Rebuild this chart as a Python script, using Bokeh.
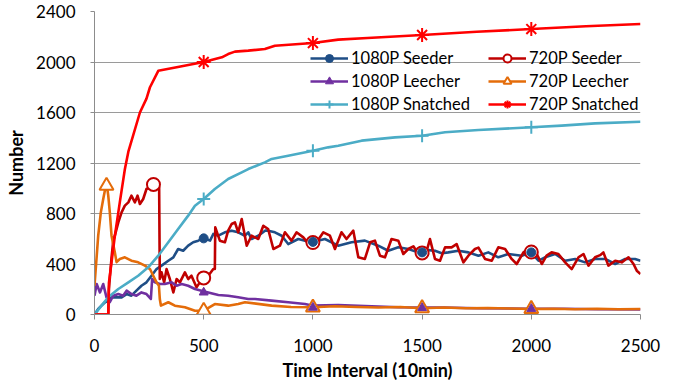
from bokeh.plotting import figure
from bokeh.models import Range1d, Legend, LegendItem, FixedTicker
from bokeh.embed import file_html
from bokeh.resources import INLINE

# ---------------- data ----------------
seed1080_x = [0, 17, 32, 48, 63, 78, 93, 124, 147, 169, 192, 215, 238, 261, 284, 307, 338, 361, 383, 406, 429, 452, 475, 500, 529, 544, 567, 597, 628, 658, 689, 704, 719, 750, 781, 795, 826, 857, 887, 933, 964, 994, 1055, 1116, 1177, 1238, 1299, 1345, 1391, 1437, 1468, 1498, 1530, 1559, 1590, 1620, 1666, 1712, 1758, 1803, 1849, 1895, 1956, 1999, 2033, 2063, 2109, 2155, 2201, 2246, 2292, 2338, 2384, 2430, 2475, 2500]
seed1080_y = [0, 44, 70, 97, 110, 136, 136, 136, 162, 149, 189, 228, 255, 307, 360, 387, 426, 453, 519, 505, 545, 572, 585, 603, 585, 638, 624, 651, 664, 651, 624, 651, 598, 624, 664, 664, 651, 624, 558, 598, 585, 572, 598, 545, 572, 585, 545, 505, 532, 519, 500, 492, 510, 505, 485, 492, 505, 492, 466, 492, 453, 479, 466, 492, 426, 453, 479, 426, 440, 413, 440, 440, 400, 440, 440, 426]

seed720_x = [0, 63, 66, 78, 86, 93, 109, 124, 139, 155, 169, 185, 197, 208, 223, 238, 255, 270, 284, 296, 299, 307, 319, 330, 345, 361, 376, 391, 414, 429, 444, 467, 498, 521, 544, 551, 553, 574, 597, 612, 628, 643, 658, 674, 697, 719, 750, 773, 795, 819, 849, 872, 902, 925, 956, 987, 1017, 1048, 1078, 1101, 1131, 1154, 1185, 1208, 1238, 1262, 1284, 1307, 1330, 1360, 1391, 1414, 1437, 1460, 1483, 1513, 1536, 1559, 1582, 1605, 1635, 1658, 1689, 1712, 1742, 1758, 1788, 1819, 1849, 1880, 1910, 1933, 1964, 1987, 2000, 2017, 2048, 2070, 2093, 2124, 2155, 2185, 2216, 2239, 2262, 2292, 2315, 2330, 2353, 2384, 2414, 2445, 2468, 2483, 2500]
seed720_y = [0, 0, 200, 450, 585, 624, 730, 809, 862, 888, 941, 888, 941, 875, 915, 994, 1010, 1030, 1034, 1007, 281, 334, 255, 360, 281, 175, 281, 255, 334, 281, 307, 215, 294, 307, 360, 360, 690, 585, 572, 664, 717, 730, 651, 756, 545, 624, 598, 703, 677, 519, 545, 651, 585, 651, 611, 545, 572, 651, 624, 519, 651, 598, 664, 453, 440, 572, 585, 466, 453, 598, 585, 479, 519, 540, 479, 453, 598, 440, 426, 532, 532, 558, 413, 466, 519, 530, 440, 426, 532, 519, 440, 400, 492, 519, 500, 505, 400, 466, 492, 479, 413, 360, 453, 479, 387, 453, 470, 492, 387, 426, 413, 453, 400, 347, 321]

leech1080_x = [0, 10, 25, 40, 55, 70, 86, 109, 131, 147, 169, 192, 215, 238, 258, 264, 277, 299, 322, 353, 376, 399, 429, 460, 498, 521, 567, 612, 658, 704, 735, 811, 887, 964, 1000, 1116, 1269, 1391, 1500, 1600, 1750, 1900, 2000, 2150, 2300, 2500]
leech1080_y = [149, 241, 175, 241, 136, 97, 149, 162, 149, 189, 162, 149, 175, 162, 123, 281, 255, 241, 241, 255, 228, 241, 228, 202, 185, 175, 155, 149, 136, 123, 123, 110, 97, 83, 70, 75, 65, 57, 55, 55, 50, 48, 45, 45, 42, 40]

leech720_x = [0, 17, 29, 40, 55, 63, 70, 78, 93, 101, 116, 139, 169, 200, 231, 254, 269, 284, 295, 299, 304, 338, 368, 414, 460, 500, 551, 612, 658, 689, 811, 900, 1000, 1100, 1200, 1300, 1400, 1500, 1600, 1700, 1800, 1900, 2000, 2100, 2200, 2300, 2400, 2500]
leech720_y = [228, 624, 809, 915, 1047, 941, 810, 624, 493, 415, 440, 453, 426, 413, 387, 360, 307, 255, 228, 123, 70, 97, 70, 57, 30, 30, 83, 70, 83, 97, 70, 60, 57, 65, 60, 55, 60, 50, 55, 50, 52, 48, 44, 45, 42, 45, 42, 44]

snat1080_x = [0, 32, 63, 109, 155, 200, 246, 292, 338, 383, 429, 460, 500, 551, 612, 674, 704, 780, 811, 887, 1000, 1070, 1116, 1223, 1376, 1500, 1605, 1758, 2000, 2139, 2292, 2500]
snat1080_y = [0, 70, 136, 202, 255, 307, 374, 466, 572, 677, 783, 862, 915, 994, 1073, 1126, 1152, 1205, 1232, 1258, 1297, 1324, 1337, 1377, 1403, 1416, 1443, 1461, 1483, 1496, 1514, 1527]

snat720_x = [0, 63, 66, 93, 116, 139, 155, 208, 238, 254, 292, 376, 500, 583, 612, 643, 704, 780, 826, 1000, 1116, 1250, 1500, 1750, 2000, 2250, 2500]
snat720_y = [0, 0, 250, 620, 890, 1150, 1290, 1600, 1710, 1800, 1930, 1958, 2000, 2037, 2063, 2082, 2090, 2103, 2129, 2150, 2177, 2190, 2214, 2240, 2261, 2283, 2301]

# marker points
mk_seed1080_x = [500, 1000, 1500, 2000]
mk_seed1080_y = [603, 575, 492, 492]
mk_seed720_x = [270, 500, 1000, 1500, 2000]
mk_seed720_y = [1030, 290, 570, 488, 495]
mk_leech1080_x = [500, 1000, 1500, 2000]
mk_leech1080_y = [175, 55, 52, 45]
mk_leech720_x = [55, 500, 1000, 1500, 2000]
mk_leech720_y = [1020, 30, 55, 50, 44]
mk_snat1080_x = [500, 1000, 1500, 2000]
mk_snat1080_y = [915, 1297, 1416, 1483]
mk_snat720_x = [500, 1000, 1500, 2000]
mk_snat720_y = [2000, 2150, 2214, 2261]

names = ["1080P Seeder", "720P Seeder", "1080P Leecher", "720P Leecher", "1080P Snatched", "720P Snatched"]
x_ticks = [0, 500, 1000, 1500, 2000, 2500]
y_ticks = [0, 400, 800, 1200, 1600, 2000, 2400]

C_SEED1080 = "#1F4E86"
C_SEED720 = "#C00000"
C_LEECH1080 = "#7030A0"
C_LEECH720 = "#E46C0A"
C_SNAT1080 = "#4BACC6"
C_SNAT720 = "#FF0000"

FONT = "Lato"

p = figure(width=662, height=383, output_backend="svg", toolbar_location=None,
           x_range=Range1d(0, 2500), y_range=Range1d(0, 2400))
p.min_border_left = 94
p.min_border_right = 22
p.min_border_top = 11
p.min_border_bottom = 69
p.outline_line_color = None
p.background_fill_color = "white"
p.border_fill_color = "white"

p.xgrid.grid_line_color = None
p.ygrid.grid_line_color = "#9A9A9A"
p.ygrid.grid_line_width = 1

p.xaxis.ticker = FixedTicker(ticks=x_ticks)
p.yaxis.ticker = FixedTicker(ticks=y_ticks)
for ax in (p.xaxis[0], p.yaxis[0]):
    ax.axis_line_color = "#8C8C8C"
    ax.major_tick_line_color = "#8C8C8C"
    ax.minor_tick_line_color = None
    ax.major_tick_in = 0
    ax.major_label_text_font = FONT
    ax.major_label_text_font_size = "17px"
    ax.major_label_text_color = "black"
    ax.axis_label_text_font = FONT
    ax.axis_label_text_font_size = "18px"
    ax.axis_label_text_font_style = "bold"
    ax.axis_label_text_color = "black"
p.xaxis.major_tick_out = 5
p.yaxis.major_tick_out = 4
p.xaxis.major_label_standoff = 19
p.yaxis.major_label_standoff = 15
p.xaxis.axis_label = "Time Interval (10min)"
p.yaxis.axis_label = "Number"
p.xaxis.axis_label_standoff = 4
p.yaxis.axis_label_standoff = 6

LW = 2.6
kw = dict(line_width=LW, line_join="round")
l1 = p.line(seed1080_x, seed1080_y, line_color=C_SEED1080, **kw)
l2 = p.line(seed720_x, seed720_y, line_color=C_SEED720, **kw)
l3 = p.line(leech1080_x, leech1080_y, line_color=C_LEECH1080, **kw)
l4 = p.line(leech720_x, leech720_y, line_color=C_LEECH720, **kw)
l5 = p.line(snat1080_x, snat1080_y, line_color=C_SNAT1080, **kw)
l6 = p.line(snat720_x, snat720_y, line_color=C_SNAT720, **kw)

m2 = p.scatter(mk_seed720_x, mk_seed720_y, marker="circle", size=13, line_color=C_SEED720,
               line_width=2, fill_color="white")
m4 = p.scatter(mk_leech720_x, mk_leech720_y, marker="triangle", size=14, line_color=C_LEECH720,
               line_width=2, fill_color="white")
m1 = p.scatter(mk_seed1080_x, mk_seed1080_y, marker="circle", size=9, line_color=C_SEED1080,
               fill_color=C_SEED1080)
m3 = p.scatter(mk_leech1080_x, mk_leech1080_y, marker="triangle", size=9, line_color=C_LEECH1080,
               fill_color=C_LEECH1080)
m5 = p.scatter(mk_snat1080_x, mk_snat1080_y, marker="cross", size=13, line_color=C_SNAT1080,
               line_width=2)
m6 = p.scatter(mk_snat720_x, mk_snat720_y, marker="asterisk", size=14, line_color=C_SNAT720,
               line_width=2)


def make_legend(items, loc):
    lg = Legend(items=items, location=loc, orientation="vertical")
    lg.background_fill_alpha = 0
    lg.border_line_color = None
    lg.padding = 0
    lg.margin = 0
    lg.spacing = 3
    lg.glyph_width = 38
    lg.glyph_height = 20
    lg.label_height = 20
    lg.label_standoff = 3
    lg.label_text_font = FONT
    lg.label_text_font_size = "16.5px"
    lg.label_text_color = "black"
    lg.label_text_baseline = "middle"
    return lg


leg1 = make_legend([LegendItem(label=names[0], renderers=[l1, m1]),
                    LegendItem(label=names[2], renderers=[l3, m3]),
                    LegendItem(label=names[4], renderers=[l5, m5])], (216, 200))
leg2 = make_legend([LegendItem(label=names[1], renderers=[l2, m2]),
                    LegendItem(label=names[3], renderers=[l4, m4]),
                    LegendItem(label=names[5], renderers=[l6, m6])], (394, 200))
p.add_layout(leg1, "center")
p.add_layout(leg2, "center")

open("out.html", "w").write(file_html(p, INLINE))
